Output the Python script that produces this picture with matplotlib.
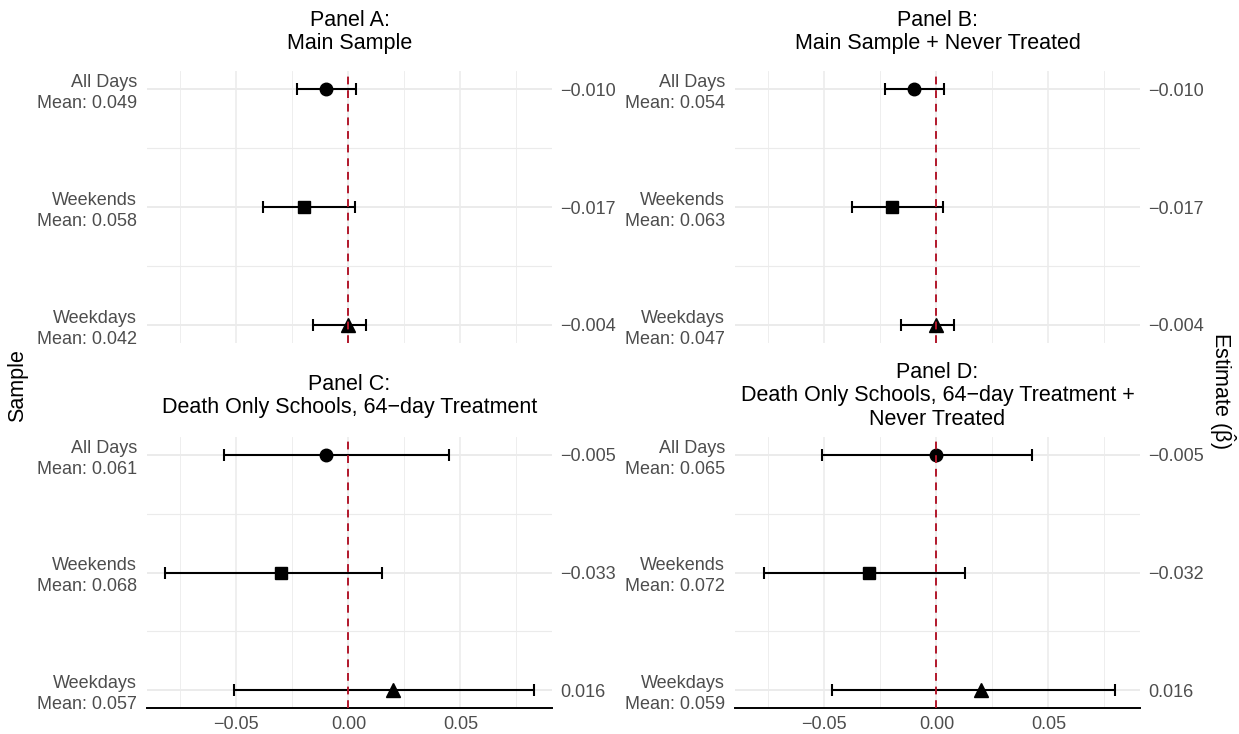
import numpy as np
import matplotlib
matplotlib.use('Agg')
import matplotlib.pyplot as plt
import matplotlib.transforms as mtransforms

plt.rcParams['font.family'] = ['Liberation Sans', 'DejaVu Sans']
plt.rcParams['mathtext.fontset'] = 'custom'
plt.rcParams['mathtext.rm'] = 'Liberation Sans'
plt.rcParams['mathtext.it'] = 'Liberation Sans:italic'

# --- data (rows top to bottom) ---
rows = ["All Days", "Weekends", "Weekdays"]
shapes = ['o', 's', '^']

titles = {
    "A": "Panel A:\nMain Sample",
    "B": "Panel B:\nMain Sample + Never Treated",
    "C": "Panel C:\nDeath Only Schools, 64\u2212day Treatment",
    "D": "Panel D:\nDeath Only Schools, 64\u2212day Treatment +\nNever Treated",
}

means_a = [0.049, 0.058, 0.042]
means_b = [0.054, 0.063, 0.047]
means_c = [0.061, 0.068, 0.057]
means_d = [0.065, 0.072, 0.059]

est_a = [-0.010, -0.017, -0.004]
est_b = [-0.010, -0.017, -0.004]
est_c = [-0.005, -0.033, 0.016]
est_d = [-0.005, -0.032, 0.016]

# plotted point positions (rounded estimates)
pt_a = [-0.01, -0.02, 0.00]
pt_b = [-0.01, -0.02, 0.00]
pt_c = [-0.01, -0.03, 0.02]
pt_d = [0.00, -0.03, 0.02]

lo_a = [-0.0230, -0.0380, -0.0160]
hi_a = [0.0035, 0.0030, 0.0080]
lo_b = [-0.0231, -0.0378, -0.0159]
hi_b = [0.0035, 0.0031, 0.0080]
lo_c = [-0.0556, -0.0817, -0.0512]
hi_c = [0.0450, 0.0151, 0.0827]
lo_d = [-0.0512, -0.0771, -0.0464]
hi_d = [0.0425, 0.0126, 0.0797]

panels = [
    ("A", means_a, est_a, pt_a, lo_a, hi_a),
    ("B", means_b, est_b, pt_b, lo_b, hi_b),
    ("C", means_c, est_c, pt_c, lo_c, hi_c),
    ("D", means_d, est_d, pt_d, lo_d, hi_d),
]

W, H = 1239, 734
fig = plt.figure(figsize=(W / 100, H / 100), dpi=100)

lefts = [147, 735]
tops = [71, 437]
bottoms = [343, 708]
ax_w = 405
title_centers = [32, 396]

all_lo = min(min(lo_a), min(lo_b), min(lo_c), min(lo_d))
all_hi = max(max(hi_a), max(hi_b), max(hi_c), max(hi_d))
span = all_hi - all_lo
xlim = (all_lo - 0.05 * span, all_hi + 0.05 * span)

grid_col = '#EBEBEB'
txt_col = '#4D4D4D'
red = '#B2182B'


def fmt(v):
    s = f"{v:.3f}"
    return s.replace('-', '\u2212')


for i, (key, means, est, pts, lo, hi) in enumerate(panels):
    r, c = divmod(i, 2)
    left = lefts[c] / W
    bottom = 1 - bottoms[r] / H
    height = (bottoms[r] - tops[r]) / H
    ax = fig.add_axes([left, bottom, ax_w / W, height])
    ypos = np.array([3, 2, 1])

    ax.set_xlim(*xlim)
    ax.set_ylim(1 - 0.153, 3 + 0.153)

    # grid
    for x in [-0.05, 0.0, 0.05]:
        ax.axvline(x, color=grid_col, lw=1.1, zorder=0)
    for x in [-0.075, -0.025, 0.025, 0.075]:
        ax.axvline(x, color=grid_col, lw=0.6, zorder=0)
    for y in ypos:
        ax.axhline(y, color=grid_col, lw=1.4, zorder=0)
    for y in [1.5, 2.5]:
        ax.axhline(y, color=grid_col, lw=0.8, zorder=0)

    # error bars + points
    for j in range(3):
        ax.errorbar([pts[j]], [ypos[j]],
                    xerr=[[pts[j] - lo[j]], [hi[j] - pts[j]]],
                    fmt='none', ecolor='black', elinewidth=1.5,
                    capsize=4.3, capthick=1.5, zorder=2)
        ms = {'o': 9, 's': 8.5, '^': 10.5}[shapes[j]]
        ax.plot(pts[j], ypos[j], marker=shapes[j], color='black',
                markersize=ms, linestyle='none', zorder=3)

    ax.axvline(0, color=red, lw=1.4, dashes=(4, 3), zorder=4)

    for s in ax.spines.values():
        s.set_visible(False)

    ax.set_yticks(ypos)
    ax.set_yticklabels([f"{rows[j]}\nMean: {means[j]:.3f}" for j in range(3)],
                       fontsize=13, color=txt_col, linespacing=1.3)
    ax.tick_params(axis='y', length=0, pad=7)

    if r == 1:
        ax.spines['bottom'].set_visible(True)
        ax.spines['bottom'].set_linewidth(1.4)
        ax.spines['bottom'].set_color('black')
        ax.set_xticks([-0.05, 0.0, 0.05])
        ax.set_xticklabels(['\u22120.05', '0.00', '0.05'],
                           fontsize=13, color=txt_col)
        ax.tick_params(axis='x', length=0, pad=6)
    else:
        ax.set_xticks([])

    ax2 = ax.twinx()
    ax2.set_ylim(ax.get_ylim())
    ax2.set_yticks(ypos)
    ax2.set_yticklabels([fmt(v) for v in est], fontsize=13, color=txt_col)
    ax2.tick_params(axis='y', length=0, pad=6)
    for s in ax2.spines.values():
        s.set_visible(False)

    trans = mtransforms.blended_transform_factory(ax.transAxes, fig.transFigure)
    ax.text(0.5, 1 - title_centers[r] / H, titles[key], transform=trans,
            ha='center', va='center', multialignment='center',
            fontsize=15.5, color='black', linespacing=1.15)

fig.text(18 / W, 1 - 386 / H, "Sample", rotation=90, ha='center', va='center',
         fontsize=15.5, color='black')
fig.text(1222 / W, 1 - 390 / H, r"Estimate ($\hat{\mathrm{\beta}}$)", rotation=270,
         ha='center', va='center', fontsize=15.5, color='black')

fig.savefig('out.png', dpi=100, facecolor='white')
